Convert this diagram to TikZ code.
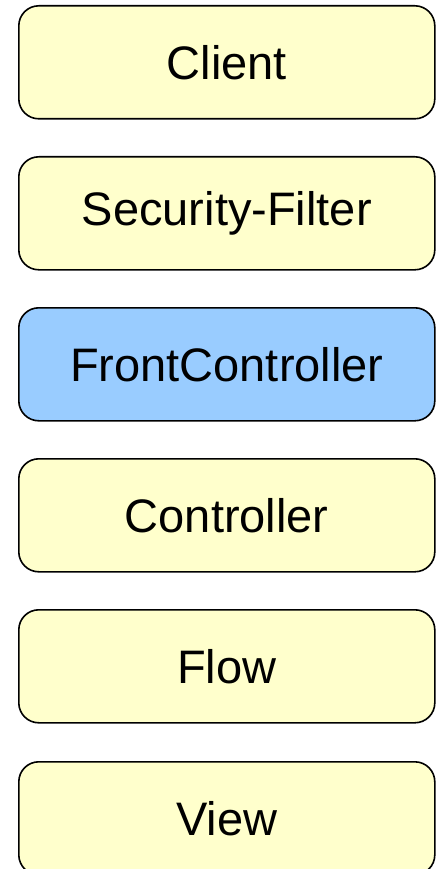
\documentclass[tikz,border=0pt]{standalone}
\usepackage{fontspec}
\setmainfont{Liberation Sans}
\definecolor{paleyellow}{HTML}{FFFFCC}
\definecolor{paleblue}{HTML}{99CCFF}
\begin{document}
\begin{tikzpicture}[x=1pt,y=1pt,
  layer/.style={draw=black, line width=1.6pt, rounded corners=20pt,
    fill=paleyellow, minimum width=416pt, minimum height=113pt,
    inner sep=0pt, font=\fontsize{47}{56}\selectfont, anchor=north},
  active/.style={layer, fill=paleblue}]
\useasboundingbox (0,0) rectangle (438,-869);
\node[layer]  (client)   at (226.8,-5)   {Client};
\node[layer]  (security) at (226.8,-156) {Security-Filter};
\node[active] (front)    at (226.8,-307) {FrontController};
\node[layer]  (ctrl)     at (226.8,-458) {Controller};
\node[layer]  (flow)     at (226.8,-609) {Flow};
\node[layer]  (view)     at (226.8,-761) {View};
\end{tikzpicture}
\end{document}
